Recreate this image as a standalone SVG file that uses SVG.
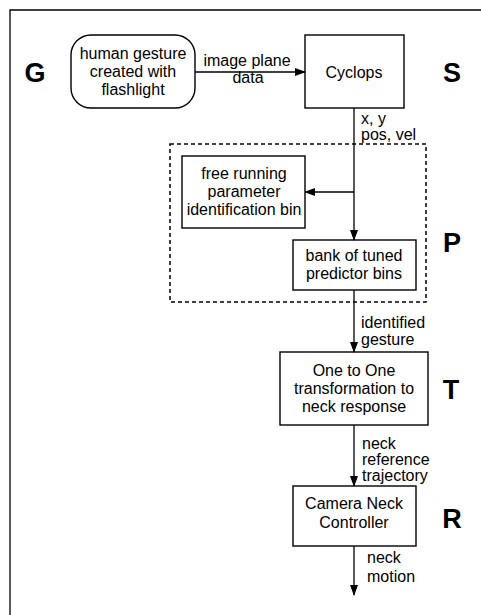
<svg xmlns="http://www.w3.org/2000/svg" width="481" height="615" viewBox="0 0 481 615">
<style>
.box{fill:none;stroke:#000;stroke-width:1.4}
.ln{fill:none;stroke:#000;stroke-width:1.3}
.t{font-family:"Liberation Sans",Arial,sans-serif;font-size:16px;fill:#000}
.c{text-anchor:middle}
.big{font-family:"Liberation Sans",Arial,sans-serif;font-size:27px;font-weight:bold;fill:#000;text-anchor:middle}
</style>
<defs>
<marker id="ah" markerWidth="11" markerHeight="8" refX="10" refY="4" orient="auto" markerUnits="userSpaceOnUse">
<path d="M0,0 L11,4 L0,8 z" fill="#000"/>
</marker>
</defs>
<rect width="481" height="615" fill="#fff"/>
<g id="frame">
<path class="ln" d="M481,10 H10 V615"/>
</g>
<g id="stage-labels">
<text class="big" x="35" y="82">G</text>
<text class="big" x="452" y="82">S</text>
<text class="big" x="452" y="252">P</text>
<text class="big" x="451" y="399">T</text>
<text class="big" x="452" y="528">R</text>
</g>
<g id="gesture">
<rect class="box" x="71" y="35" width="124" height="73" rx="20" ry="20"/>
<text class="t c" x="133" y="59">human gesture</text>
<text class="t c" x="133" y="77">created with</text>
<text class="t c" x="133" y="95">flashlight</text>
</g>
<g id="cyclops">
<rect class="box" x="305" y="35" width="99" height="73"/>
<text class="t c" x="354" y="78">Cyclops</text>
</g>
<g id="predictor-group">
<rect x="170" y="144" width="256" height="158" fill="none" stroke="#000" stroke-width="1.5" stroke-dasharray="4,3"/>
</g>
<g id="free-running">
<rect class="box" x="182" y="156" width="123" height="72"/>
<text class="t c" x="244" y="179">free running</text>
<text class="t c" x="244" y="197">parameter</text>
<text class="t c" x="244" y="215">identification bin</text>
</g>
<g id="bank">
<rect class="box" x="293" y="240" width="123" height="50"/>
<text class="t c" x="354" y="261">bank of tuned</text>
<text class="t c" x="354" y="279">predictor bins</text>
</g>
<g id="transform">
<rect class="box" x="280" y="352" width="148" height="73"/>
<text class="t c" x="354" y="376">One to One</text>
<text class="t c" x="354" y="394">transformation to</text>
<text class="t c" x="354" y="412">neck response</text>
</g>
<g id="controller">
<rect class="box" x="293" y="486" width="123" height="60"/>
<text class="t c" x="354" y="509">Camera Neck</text>
<text class="t c" x="354" y="528">Controller</text>
</g>
<g id="connectors">
<line class="ln" x1="195" y1="72" x2="305" y2="72" marker-end="url(#ah)"/>
<line class="ln" x1="354" y1="108" x2="354" y2="240" marker-end="url(#ah)"/>
<line class="ln" x1="354" y1="192" x2="305" y2="192" marker-end="url(#ah)"/>
<line class="ln" x1="354" y1="290" x2="354" y2="352" marker-end="url(#ah)"/>
<line class="ln" x1="354" y1="425" x2="354" y2="486" marker-end="url(#ah)"/>
<line class="ln" x1="354" y1="546" x2="354" y2="595" marker-end="url(#ah)"/>
<text class="t c" x="247" y="66">image plane</text>
<text class="t c" x="248" y="83">data</text>
<text class="t" x="361" y="124">x, y</text>
<text class="t" x="361" y="140">pos, vel</text>
<text class="t" x="361" y="328">identified</text>
<text class="t" x="361" y="345">gesture</text>
<text class="t" x="362" y="449">neck</text>
<text class="t" x="362" y="465">reference</text>
<text class="t" x="362" y="481">trajectory</text>
<text class="t" x="367" y="563">neck</text>
<text class="t" x="367" y="582">motion</text>
</g>
</svg>
